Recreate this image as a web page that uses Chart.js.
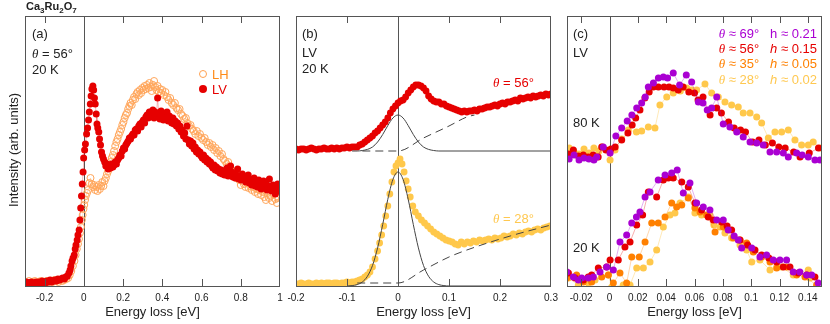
<!DOCTYPE html>
<html>
<head>
<meta charset="utf-8">
<script src="https://cdn.jsdelivr.net/npm/chart.js@4.4.1/dist/chart.umd.min.js"></script>
<style>
  body { margin: 0; background: #fff; }
  #wrap { position: relative; width: 830px; height: 324px; overflow: hidden; font-family: 'Liberation Sans', Arial, sans-serif; color: #222; }
  canvas { position: absolute; left: 0; top: 0; }
  .t { position: absolute; font-size: 13px; line-height: 13px; white-space: pre; }
  .th { font-family: 'Liberation Serif', 'DejaVu Serif', serif; font-style: italic; }
  .it { font-style: italic; }
  .mk { position: absolute; width: 6px; height: 6px; border-radius: 50%; }
</style>
</head>
<body>
<div id="wrap">
  <canvas id="ca" width="830" height="324"></canvas>
  <canvas id="cb" width="830" height="324"></canvas>
  <canvas id="cc" width="830" height="324"></canvas>

  <div class="t" style="left:26px;top:0px;font-size:11px;font-weight:bold;">Ca<sub style="font-size:8px">3</sub>Ru<sub style="font-size:8px">2</sub>O<sub style="font-size:8px">7</sub></div>
  <div class="t" style="left:2px;top:150px;width:0;height:0;">
    <div style="position:absolute;left:0;top:0;transform:translate(-50%,-50%) rotate(-90deg);transform-origin:50% 50%;white-space:pre;left:11px;top:0;">Intensity (arb. units)</div>
  </div>

  <div class="t" style="left:32px;top:27px;">(a)</div>
  <div class="t" style="left:32px;top:47px;"><span class="th">θ</span> = 56°</div>
  <div class="t" style="left:32px;top:63px;">20 K</div>
  <div class="mk" style="left:199px;top:70px;border:1px solid #ffa050;"></div>
  <div class="t" style="left:212px;top:68px;color:#ff8c1a;">LH</div>
  <div class="mk" style="left:199px;top:85px;width:8px;height:8px;background:#e60000;"></div>
  <div class="t" style="left:212px;top:83px;color:#e60000;">LV</div>

  <div class="t" style="left:302px;top:27px;">(b)</div>
  <div class="t" style="left:302px;top:46px;">LV</div>
  <div class="t" style="left:302px;top:62px;">20 K</div>
  <div class="t" style="left:493px;top:76px;color:#e60000;"><span class="th">θ</span> = 56°</div>
  <div class="t" style="left:493px;top:212px;color:#ffc850;"><span class="th">θ</span> = 28°</div>

  <div class="t" style="left:573px;top:27px;">(c)</div>
  <div class="t" style="left:573px;top:46px;">LV</div>
  <div class="t" style="left:573px;top:116px;">80 K</div>
  <div class="t" style="left:573px;top:241px;">20 K</div>
  <div class="t" style="right:13px;top:27px;text-align:right;color:#aa00d2;"><span class="th">θ</span> ≈ 69°   h ≈ 0.21</div>
  <div class="t" style="right:13px;top:42px;text-align:right;color:#e60000;"><span class="th">θ</span> ≈ 56°   <span class="it">h</span> ≈ 0.15</div>
  <div class="t" style="right:13px;top:57px;text-align:right;color:#ff8000;"><span class="th">θ</span> ≈ 35°   <span class="it">h</span> ≈ 0.05</div>
  <div class="t" style="right:13px;top:73px;text-align:right;color:#ffc850;"><span class="th">θ</span> ≈ 28°   <span class="it">h</span> ≈ 0.02</div>
</div>

<script>
// tick labels
var aTicks = [-0.2, 0, 0.2, 0.4, 0.6, 0.8, 1];
var bTicks = [-0.2, -0.1, 0, 0.1, 0.2, 0.3];
var cTicks = [-0.02, 0, 0.02, 0.04, 0.06, 0.08, 0.1, 0.12, 0.14];

// (a) 20 K, theta = 56 deg  [energy loss, intensity]
var aLV = [[-0.300,3],[-0.292,4],[-0.284,2],[-0.276,3],[-0.268,4],[-0.260,3],[-0.252,2],[-0.244,4],[-0.236,3],[-0.228,4],[-0.220,3],[-0.212,5],[-0.204,4],[-0.196,3],[-0.188,5],[-0.180,4],[-0.172,6],[-0.164,4],[-0.156,5],[-0.148,6],[-0.140,5],[-0.132,7],[-0.124,6],[-0.116,7],[-0.108,8],[-0.100,7],[-0.092,9],[-0.084,10],[-0.076,13],[-0.070,16],[-0.066,20],[-0.060,25],[-0.055,28],[-0.049,31],[-0.044,37],[-0.040,41],[-0.034,46],[-0.030,51],[-0.024,56],[-0.020,66],[-0.016,78],[-0.012,90],[-0.008,102],[-0.004,114],[-0.001,128],[0.004,136],[0.008,142],[0.014,152],[0.019,158],[0.024,166],[0.028,174],[0.033,182],[0.037,190],[0.041,197],[0.046,200],[0.050,196],[0.054,188],[0.058,182],[0.063,172],[0.067,162],[0.071,158],[0.076,154],[0.080,147],[0.085,141],[0.090,134],[0.095,130],[0.100,127],[0.106,124],[0.112,120],[0.118,122],[0.124,117],[0.130,120],[0.136,118],[0.142,122],[0.148,119],[0.154,121],[0.160,124],[0.166,122],[0.172,126],[0.178,128],[0.184,131],[0.190,130],[0.196,135],[0.202,138],[0.208,137],[0.214,141],[0.220,143],[0.226,145],[0.232,148],[0.238,147],[0.244,150],[0.250,152],[0.256,151],[0.262,156],[0.268,157],[0.274,155],[0.280,160],[0.286,162],[0.292,159],[0.298,164],[0.304,166],[0.310,163],[0.316,169],[0.322,171],[0.328,168],[0.334,174],[0.340,172],[0.346,170],[0.352,176],[0.358,168],[0.364,174],[0.370,171],[0.376,188],[0.382,172],[0.388,167],[0.394,175],[0.400,170],[0.406,166],[0.412,172],[0.418,168],[0.424,174],[0.430,165],[0.436,170],[0.442,166],[0.448,163],[0.454,168],[0.460,162],[0.466,165],[0.472,160],[0.478,163],[0.484,157],[0.490,160],[0.496,154],[0.502,156],[0.508,150],[0.514,153],[0.520,147],[0.526,160],[0.532,146],[0.538,142],[0.544,145],[0.550,140],[0.556,143],[0.562,137],[0.568,139],[0.574,134],[0.580,136],[0.586,132],[0.592,134],[0.598,130],[0.604,128],[0.610,131],[0.616,126],[0.622,128],[0.628,124],[0.634,126],[0.640,122],[0.646,124],[0.652,120],[0.658,118],[0.664,121],[0.670,116],[0.676,119],[0.682,115],[0.688,117],[0.694,113],[0.700,116],[0.706,112],[0.712,115],[0.718,111],[0.724,113],[0.730,118],[0.736,110],[0.742,112],[0.748,120],[0.754,114],[0.760,109],[0.766,112],[0.772,108],[0.778,111],[0.784,117],[0.790,107],[0.796,110],[0.802,106],[0.808,112],[0.814,106],[0.820,108],[0.826,104],[0.832,107],[0.838,111],[0.844,103],[0.850,106],[0.856,101],[0.862,105],[0.868,108],[0.874,100],[0.880,104],[0.886,99],[0.892,106],[0.898,102],[0.904,97],[0.910,101],[0.916,105],[0.922,98],[0.928,102],[0.934,96],[0.940,100],[0.946,107],[0.952,99],[0.958,95],[0.964,101],[0.970,97],[0.976,92],[0.982,99],[0.988,102],[0.994,95],[1.000,101]];
var aLH = [[-0.300,4],[-0.290,3],[-0.280,5],[-0.270,3],[-0.260,4],[-0.250,5],[-0.240,3],[-0.230,4],[-0.220,5],[-0.210,4],[-0.200,3],[-0.190,5],[-0.180,4],[-0.170,5],[-0.160,4],[-0.150,6],[-0.140,5],[-0.130,4],[-0.120,6],[-0.110,5],[-0.100,6],[-0.090,7],[-0.080,8],[-0.072,11],[-0.064,15],[-0.056,20],[-0.048,25],[-0.042,31],[-0.036,37],[-0.030,42],[-0.025,47],[-0.020,53],[-0.015,59],[-0.010,66],[-0.006,71],[-0.002,77],[0.002,81],[0.006,86],[0.010,90],[0.016,93],[0.022,96],[0.028,103],[0.034,108],[0.040,102],[0.046,99],[0.052,101],[0.058,96],[0.064,99],[0.070,95],[0.076,101],[0.082,97],[0.088,100],[0.094,104],[0.100,100],[0.106,105],[0.112,108],[0.118,112],[0.124,115],[0.130,120],[0.136,124],[0.142,128],[0.148,131],[0.154,135],[0.160,140],[0.166,144],[0.172,147],[0.178,151],[0.184,154],[0.190,157],[0.196,161],[0.202,164],[0.208,168],[0.214,171],[0.220,173],[0.226,177],[0.232,180],[0.238,183],[0.244,181],[0.250,186],[0.256,189],[0.262,187],[0.268,192],[0.274,194],[0.280,191],[0.286,196],[0.292,193],[0.298,198],[0.304,196],[0.310,200],[0.316,197],[0.322,201],[0.328,198],[0.334,203],[0.340,199],[0.346,195],[0.352,201],[0.358,205],[0.364,199],[0.370,196],[0.376,200],[0.382,194],[0.388,197],[0.394,193],[0.400,196],[0.408,191],[0.416,194],[0.424,189],[0.432,186],[0.440,188],[0.448,183],[0.456,181],[0.464,183],[0.472,178],[0.480,176],[0.488,177],[0.496,172],[0.504,170],[0.512,167],[0.520,168],[0.528,163],[0.536,160],[0.544,161],[0.552,157],[0.560,155],[0.568,152],[0.576,155],[0.584,150],[0.592,152],[0.600,148],[0.608,146],[0.616,148],[0.624,144],[0.632,141],[0.640,143],[0.648,139],[0.656,141],[0.664,136],[0.672,138],[0.680,133],[0.688,135],[0.696,130],[0.704,132],[0.712,127],[0.720,125],[0.728,122],[0.736,124],[0.744,119],[0.752,116],[0.760,112],[0.768,114],[0.776,108],[0.784,110],[0.792,106],[0.800,101],[0.808,105],[0.816,102],[0.824,99],[0.832,103],[0.840,98],[0.848,100],[0.856,96],[0.864,99],[0.872,94],[0.880,97],[0.888,92],[0.896,96],[0.904,91],[0.912,94],[0.920,89],[0.928,86],[0.936,93],[0.944,88],[0.952,90],[0.960,85],[0.968,92],[0.976,87],[0.984,83],[0.992,88],[1.000,94]];

// (b) LV 20 K, two angles offset vertically
var bRed = [[-0.200,137],[-0.195,136],[-0.190,137],[-0.185,137],[-0.180,136],[-0.175,137],[-0.170,138],[-0.165,137],[-0.160,136],[-0.155,137],[-0.150,137],[-0.145,138],[-0.140,137],[-0.135,137],[-0.130,138],[-0.125,137],[-0.120,138],[-0.115,137],[-0.110,138],[-0.105,138],[-0.100,139],[-0.095,138],[-0.090,139],[-0.085,139],[-0.080,139],[-0.075,141],[-0.070,142],[-0.065,144],[-0.060,146],[-0.055,148],[-0.050,150],[-0.045,153],[-0.040,155],[-0.035,158],[-0.030,161],[-0.025,164],[-0.020,168],[-0.015,173],[-0.010,177],[-0.005,180],[0.000,183],[0.005,185],[0.010,186],[0.015,189],[0.020,193],[0.025,196],[0.030,199],[0.035,201],[0.040,201],[0.045,200],[0.050,198],[0.055,195],[0.060,190],[0.065,187],[0.070,185],[0.075,184],[0.080,184],[0.085,182],[0.090,182],[0.095,180],[0.100,179],[0.105,178],[0.110,177],[0.115,176],[0.120,175],[0.125,174],[0.130,175],[0.135,174],[0.140,175],[0.145,175],[0.150,176],[0.155,175],[0.160,177],[0.165,177],[0.170,178],[0.175,179],[0.180,179],[0.185,180],[0.190,181],[0.195,180],[0.200,182],[0.205,183],[0.210,182],[0.215,184],[0.220,184],[0.225,185],[0.230,186],[0.235,185],[0.240,188],[0.245,187],[0.250,188],[0.255,189],[0.260,188],[0.265,190],[0.270,189],[0.275,190],[0.280,191],[0.285,190],[0.290,192],[0.295,191],[0.300,192]];
var bYellow = [[-0.200,2],[-0.195,2],[-0.190,3],[-0.185,2],[-0.180,2],[-0.175,3],[-0.170,2],[-0.165,2],[-0.160,3],[-0.155,2],[-0.150,3],[-0.145,2],[-0.140,3],[-0.135,3],[-0.130,2],[-0.125,3],[-0.120,3],[-0.115,2],[-0.110,3],[-0.105,3],[-0.100,4],[-0.095,3],[-0.090,4],[-0.085,4],[-0.080,5],[-0.075,6],[-0.070,7],[-0.065,9],[-0.060,11],[-0.055,14],[-0.050,19],[-0.045,27],[-0.040,35],[-0.036,43],[-0.032,51],[-0.028,60],[-0.024,70],[-0.020,80],[-0.016,92],[-0.012,104],[-0.008,114],[-0.004,120],[0.000,123],[0.004,127],[0.008,122],[0.012,114],[0.016,105],[0.020,97],[0.024,89],[0.029,80],[0.034,74],[0.040,70],[0.046,66],[0.052,63],[0.058,60],[0.064,57],[0.070,54],[0.076,52],[0.082,50],[0.088,48],[0.094,46],[0.100,45],[0.106,44],[0.112,42],[0.118,41],[0.124,44],[0.130,42],[0.136,44],[0.142,43],[0.148,45],[0.154,44],[0.160,46],[0.166,45],[0.172,46],[0.178,47],[0.184,46],[0.190,48],[0.196,47],[0.202,48],[0.208,50],[0.214,49],[0.220,50],[0.226,52],[0.232,51],[0.238,53],[0.244,52],[0.250,54],[0.256,55],[0.262,54],[0.268,56],[0.274,57],[0.280,56],[0.286,58],[0.292,59],[0.298,60]];
var bRedPeak = [[-0.09,135],[-0.08,135],[-0.07,135.5],[-0.06,136.6],[-0.05,139],[-0.04,144],[-0.03,151.5],[-0.02,160.4],[-0.01,168],[0,171],[0.01,168],[0.02,160.4],[0.03,151.5],[0.04,144],[0.05,139],[0.06,136.6],[0.07,135.5],[0.08,135],[0.3,135]];
var bRedBg = [[-0.07,135],[0,135],[0.05,148],[0.1,160],[0.135,169],[0.15,171]];
var bYellowPeak = [[-0.1,0],[-0.09,0.4],[-0.08,1.4],[-0.07,4],[-0.06,9.7],[-0.05,20.5],[-0.04,38.1],[-0.03,61.5],[-0.02,86.7],[-0.01,106.5],[0,114],[0.01,106.5],[0.02,86.7],[0.03,61.5],[0.04,38.1],[0.05,20.5],[0.06,9.7],[0.07,4],[0.08,1.4],[0.09,0.4],[0.1,0],[0.3,0]];
var bYellowBg = [[-0.08,3],[0,3],[0.05,16],[0.1,29],[0.135,36],[0.22,50],[0.3,61]];

// (c) LV, 80 K (upper) and 20 K (lower)
var c80Purple = [[-0.0285,127],[-0.0250,131],[-0.0215,126],[-0.0180,128],[-0.0145,127],[-0.0110,126],[-0.0090,129],[-0.0044,139],[0.0004,133],[0.0045,150],[0.0086,158],[0.0125,165],[0.0158,171],[0.0192,178],[0.0227,183],[0.0252,189],[0.0274,199],[0.0310,203],[0.0345,208],[0.0380,209],[0.0410,208],[0.0450,213],[0.0495,201],[0.0542,211],[0.0580,204],[0.0627,184],[0.0660,183],[0.0690,176],[0.0721,178],[0.0757,189],[0.0803,162],[0.0850,159],[0.0898,154],[0.0944,149],[0.0992,144],[0.1039,143],[0.1085,141],[0.1133,134],[0.1180,134],[0.1227,133],[0.1262,129],[0.1321,133],[0.1360,131],[0.1403,129],[0.1450,126],[0.1486,126]];
var c80Red = [[-0.0290,132],[-0.0255,136],[-0.0220,130],[-0.0185,131],[-0.0150,129],[-0.0115,131],[-0.0080,129],[-0.0055,139],[-0.0025,136],[0.0010,137],[0.0040,139],[0.0086,146],[0.0130,153],[0.0160,161],[0.0185,168],[0.0215,176],[0.0250,188],[0.0280,194],[0.0310,199],[0.0345,199],[0.0385,199],[0.0420,199],[0.0450,198],[0.0485,196],[0.0520,199],[0.0560,194],[0.0600,193],[0.0625,186],[0.0660,189],[0.0710,171],[0.0757,178],[0.0790,173],[0.0840,164],[0.0880,158],[0.0925,156],[0.0960,154],[0.1010,144],[0.1055,146],[0.1100,141],[0.1150,143],[0.1195,139],[0.1240,138],[0.1300,134],[0.1345,129],[0.1410,133],[0.1475,138]];
var c80Yellow = [[-0.0285,138],[-0.0250,134],[-0.0215,132],[-0.0180,137],[-0.0145,133],[-0.0110,138],[-0.0075,135],[-0.0050,139],[0.0004,126],[0.0039,136],[0.0085,147],[0.0133,156],[0.0190,154],[0.0227,155],[0.0274,159],[0.0321,158],[0.0356,181],[0.0404,189],[0.0450,193],[0.0500,195],[0.0545,198],[0.0580,196],[0.0615,196],[0.0674,202],[0.0721,193],[0.0768,189],[0.0815,184],[0.0862,181],[0.0909,179],[0.0944,173],[0.0992,173],[0.1039,169],[0.1074,163],[0.1121,148],[0.1168,154],[0.1215,154],[0.1262,156],[0.1309,146],[0.1356,141],[0.1403,141],[0.1438,144],[0.1490,138]];
var c20Purple = [[-0.0302,14],[-0.0255,9],[-0.0220,6],[-0.0196,8],[-0.0150,8],[-0.0114,9],[-0.0067,14],[-0.0020,19],[0.0027,16],[0.0074,44],[0.0121,51],[0.0157,63],[0.0190,69],[0.0215,74],[0.0251,89],[0.0286,94],[0.0344,106],[0.0392,111],[0.0439,113],[0.0478,116],[0.0521,93],[0.0568,103],[0.0615,83],[0.0662,79],[0.0709,76],[0.0757,66],[0.0803,66],[0.0838,56],[0.0880,50],[0.0909,46],[0.0933,38],[0.1004,38],[0.1062,29],[0.1109,31],[0.1156,26],[0.1203,26],[0.1250,26],[0.1297,14],[0.1344,14],[0.1392,11],[0.1427,11],[0.1473,3]];
var c20Red = [[-0.0290,13],[-0.0243,8],[-0.0185,6],[-0.0150,9],[-0.0126,11],[-0.0079,18],[-0.0020,19],[0.0004,26],[0.0062,26],[0.0109,39],[0.0145,44],[0.0192,61],[0.0234,71],[0.0274,94],[0.0333,89],[0.0380,106],[0.0415,108],[0.0450,108],[0.0510,104],[0.0556,99],[0.0603,83],[0.0650,76],[0.0697,69],[0.0733,66],[0.0792,64],[0.0830,60],[0.0862,56],[0.0921,46],[0.0975,41],[0.1027,36],[0.1074,31],[0.1125,28],[0.1180,24],[0.1227,19],[0.1274,19],[0.1332,13],[0.1392,11],[0.1450,9]];
var c20Orange = [[-0.0302,8],[-0.0232,11],[-0.0185,4],[-0.0126,4],[-0.0055,9],[-0.0008,11],[0.0027,3],[0.0074,13],[0.0121,3],[0.0157,29],[0.0210,29],[0.0251,44],[0.0298,63],[0.0344,63],[0.0392,69],[0.0439,83],[0.0474,79],[0.0510,81],[0.0556,88],[0.0603,78],[0.0639,74],[0.0686,71],[0.0745,54],[0.0803,59],[0.0874,48],[0.0921,46],[0.0968,43],[0.1015,34],[0.1074,29],[0.1133,24],[0.1180,18],[0.1250,19],[0.1321,11],[0.1380,9],[0.1462,1]];
var c20Yellow = [[-0.0290,8],[-0.0220,1],[-0.0150,3],[-0.0102,6],[-0.0008,11],[0.0016,-1],[0.0097,1],[0.0145,1],[0.0192,18],[0.0239,18],[0.0286,24],[0.0333,36],[0.0380,59],[0.0427,71],[0.0462,73],[0.0498,83],[0.0556,89],[0.0603,73],[0.0650,71],[0.0709,71],[0.0737,61],[0.0780,59],[0.0815,53],[0.0862,48],[0.0921,41],[0.0968,36],[0.1004,24],[0.1062,26],[0.1133,16],[0.1215,19],[0.1297,11],[0.1403,16],[0.1415,8]];

var RED = 'rgb(230,0,0)', YEL = 'rgb(255,200,75)', ORA = 'rgb(255,128,0)', PUR = 'rgb(170,0,210)';

Chart.defaults.font.family = "'Liberation Sans', Arial, sans-serif";
Chart.defaults.color = '#222';

function pts(arr) {
	return arr.map(function(p) { return {x: p[0], y: p[1]}; });
}

function dots(arr, col, lineCol, r) {
	return {
		data: pts(arr), showLine: true, borderColor: lineCol, borderWidth: 0.8,
		pointRadius: r, pointBackgroundColor: col, pointBorderWidth: 0
	};
}

function fit(arr, dashed) {
	return {
		data: pts(arr), showLine: true, borderColor: '#444', borderWidth: 1,
		borderDash: dashed ? [8, 5] : [], pointRadius: 0, cubicInterpolationMode: 'monotone'
	};
}

// frame, zero line and inward tick marks
var framePlugin = {
	id: 'frame',
	beforeDatasetsDraw: function(chart) {
		var ctx = chart.ctx, a = chart.chartArea;
		var x0 = Math.round(chart.scales.x.getPixelForValue(0)) + 0.5;
		ctx.save();
		ctx.strokeStyle = '#555';
		ctx.lineWidth = 1;
		ctx.beginPath(); ctx.moveTo(x0, a.top); ctx.lineTo(x0, a.bottom); ctx.stroke();
		ctx.restore();
	},
	afterDatasetsDraw: function(chart, args, opts) {
		var ctx = chart.ctx, a = chart.chartArea, x = chart.scales.x;
		ctx.save();
		ctx.strokeStyle = '#555';
		ctx.lineWidth = 1;
		opts.marks.forEach(function(v) {
			if (v === 0) return;
			var px = Math.round(x.getPixelForValue(v)) + 0.5;
			if (px <= a.left + 1 || px >= a.right - 1) return;
			ctx.beginPath();
			ctx.moveTo(px, a.top); ctx.lineTo(px, a.top + 7);
			ctx.moveTo(px, a.bottom); ctx.lineTo(px, a.bottom - 7);
			ctx.stroke();
		});
		ctx.strokeRect(Math.round(a.left) + 0.5, Math.round(a.top) + 0.5, Math.round(a.width) - 1, Math.round(a.height));
		ctx.restore();
	}
};

function panel(id, left, right, xMin, xMax, ticks, datasets) {
	return new Chart(document.getElementById(id), {
		type: 'scatter',
		data: {datasets: datasets},
		options: {
			responsive: false, animation: false, devicePixelRatio: 1,
			layout: {padding: {left: left, right: 830 - right, top: 16, bottom: 0}},
			plugins: {legend: {display: false}, tooltip: {enabled: false}, frame: {marks: ticks}},
			scales: {
				x: {
					type: 'linear', min: xMin, max: xMax,
					afterBuildTicks: function(s) { s.ticks = ticks.map(function(v) { return {value: v}; }); },
					afterFit: function(s) { s.height = 38; },
					grid: {display: false, drawTicks: false},
					border: {display: false},
					ticks: {font: {size: 10}, color: '#222', padding: 6, maxRotation: 0, autoSkip: false,
						callback: function(v) { return String(+(+v).toFixed(3)); }},
					title: {display: true, text: 'Energy loss [eV]', font: {size: 13}, color: '#222', padding: {top: 0, bottom: 4}}
				},
				y: {display: false, min: 0, max: 270}
			}
		},
		plugins: [framePlugin]
	});
}

panel('ca', 25, 280, -0.3, 1.0, aTicks, [
	dots(aLV, RED, 'rgba(230,0,0,0.35)', 3.5),
	Object.assign(dots(aLH, 'rgba(0,0,0,0)', 'rgba(255,150,60,0.35)', 3.5), {pointBorderColor: 'rgb(255,165,90)', pointBorderWidth: 1})
]);

panel('cb', 296, 551, -0.2, 0.3, bTicks, [
	fit(bRedPeak, false), fit(bRedBg, true), fit(bYellowPeak, false), fit(bYellowBg, true),
	dots(bRed, RED, 'rgba(0,0,0,0)', 3.4),
	dots(bYellow, YEL, 'rgba(0,0,0,0)', 3.4)
]);

panel('cc', 567, 822, -0.03, 0.15, cTicks, [
	dots(c80Purple, PUR, 'rgba(170,0,210,0.4)', 3.5),
	dots(c80Red, RED, 'rgba(230,0,0,0.4)', 3.5),
	dots(c80Yellow, YEL, 'rgba(255,200,75,0.5)', 3.5),
	dots(c20Purple, PUR, 'rgba(170,0,210,0.4)', 3.5),
	dots(c20Red, RED, 'rgba(230,0,0,0.4)', 3.5),
	dots(c20Orange, ORA, 'rgba(255,128,0,0.4)', 3.5),
	dots(c20Yellow, YEL, 'rgba(255,200,75,0.5)', 3.5)
]);
</script>
</body>
</html>
